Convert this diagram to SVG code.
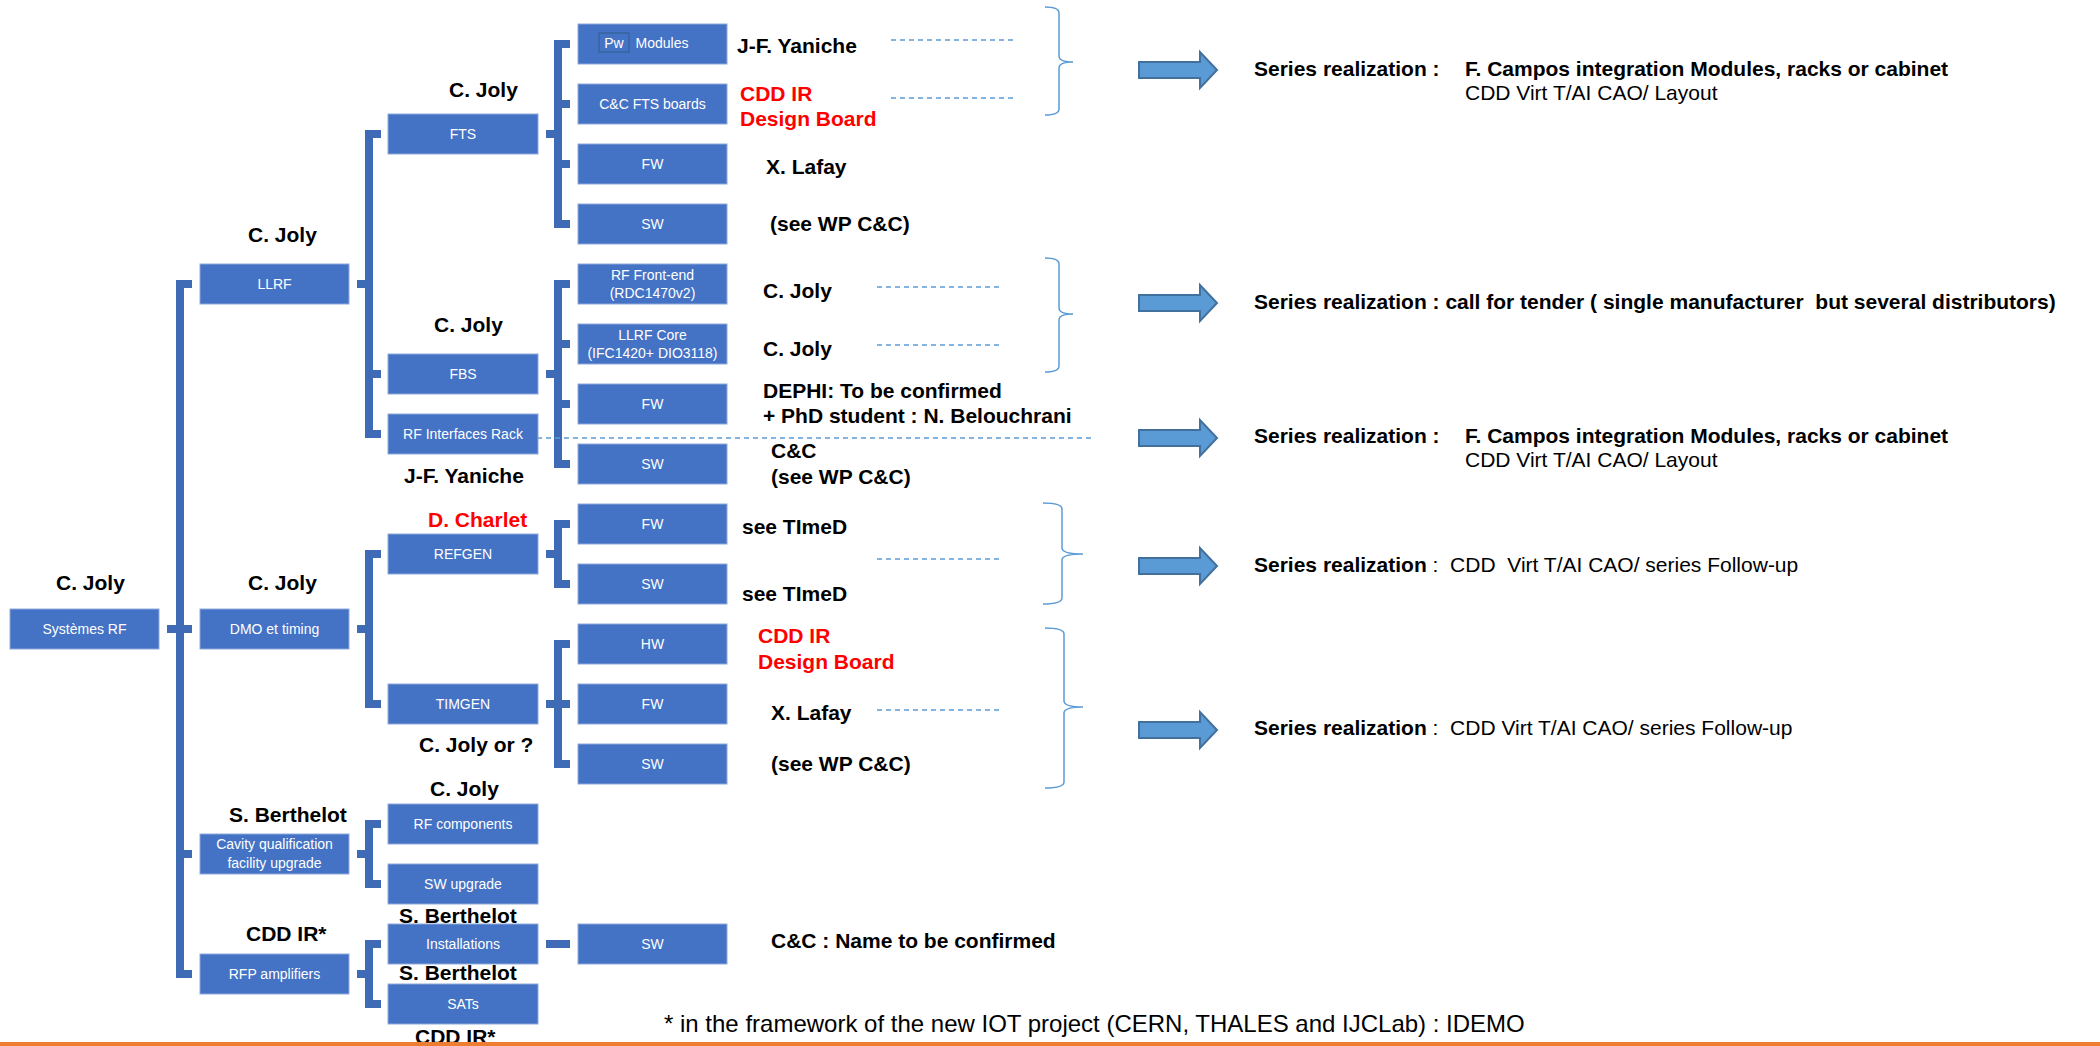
<svg xmlns="http://www.w3.org/2000/svg" width="2100" height="1046" viewBox="0 0 2100 1046">
<style>
.box{fill:#4472C4;stroke:#8EA9DB;stroke-width:1}
.bt{font-family:"Liberation Sans",Arial,sans-serif;font-size:14px;fill:#FFFFFF;text-anchor:middle}
.br{fill:none;stroke:#3F6AB6;stroke-width:8;stroke-linejoin:miter;stroke-linecap:butt}
.dash{fill:none;stroke:#5B9BD5;stroke-width:1.5;stroke-dasharray:5 4}
.brace{fill:none;stroke:#5B9BD5;stroke-width:1.5}
.nm{font-family:"Liberation Sans",Arial,sans-serif;font-size:21px;font-weight:bold;fill:#000000}
.red{fill:#FF0000}
.sr{font-family:"Liberation Sans",Arial,sans-serif;font-size:21px;fill:#000000}
.b{font-weight:bold}
.arr{fill:#5B9BD5;stroke:#41719C;stroke-width:2}
</style>
<defs>
<path id="arrow" class="arr" d="M0,-8 H61 V-18 L78,0 L61,18 V8 H0 Z"/>
</defs>

<g id="connectors">
<path class="br" d="M192,284 H180 V974 H192 M167,629 H192 M180,854 H192"/>
<path class="br" d="M381,134 H369 V434 H381 M357,284 H369 M369,374 H381"/>
<path class="br" d="M381,554 H369 V704 H381 M357,629 H369"/>
<path class="br" d="M381,824 H369 V884 H381 M357,854 H369"/>
<path class="br" d="M381,944 H369 V1004 H381 M357,974 H369"/>
<path class="br" d="M570,44 H558 V224 H570 M558,104 H570 M558,164 H570 M546,134 H558"/>
<path class="br" d="M570,284 H558 V464 H570 M558,344 H570 M558,404 H570 M546,374 H558"/>
<path class="br" d="M570,524 H558 V584 H570 M546,554 H558"/>
<path class="br" d="M570,644 H558 V764 H570 M546,704 H570"/>
<path class="br" d="M546,944 H570"/>
<path class="dash" d="M891,40 H1016 M891,98 H1016 M877,287 H1001 M877,345 H1001 M528,438 H1094 M877,559 H1001 M877,710 H1001"/>
<path class="brace" d="M1045,7 Q1059,7 1059,13 V56 Q1059,62 1073,62 Q1059,62 1059,68 V109 Q1059,115 1045,115"/>
<path class="brace" d="M1045,258 Q1059,258 1059,264 V308 Q1059,314 1073,314 Q1059,314 1059,320 V366 Q1059,372 1045,372"/>
<path class="brace" d="M1043,503 Q1062,503 1062,509 V548 Q1062,554 1083,554 Q1062,554 1062,560 V598 Q1062,604 1043,604"/>
<path class="brace" d="M1045,628 Q1064,628 1064,634 V701 Q1064,707 1083,707 Q1064,707 1064,713 V782 Q1064,788 1045,788"/>
<use href="#arrow" x="1139" y="70"/>
<use href="#arrow" x="1139" y="303"/>
<use href="#arrow" x="1139" y="438"/>
<use href="#arrow" x="1139" y="566"/>
<use href="#arrow" x="1139" y="730"/>
</g>

<g id="n-systemes-rf"><rect class="box" x="10" y="609" width="149" height="40"/><text class="bt" x="84.5" y="634">Systèmes RF</text></g>
<g id="n-llrf"><rect class="box" x="200" y="264" width="149" height="40"/><text class="bt" x="274.5" y="289">LLRF</text></g>
<g id="n-dmo"><rect class="box" x="200" y="609" width="149" height="40"/><text class="bt" x="274.5" y="634">DMO et timing</text></g>
<g id="n-cavity"><rect class="box" x="200" y="834" width="149" height="40"/><text class="bt" x="274.5" y="849">Cavity qualification</text><text class="bt" x="274.5" y="868">facility upgrade</text></g>
<g id="n-rfp"><rect class="box" x="200" y="954" width="149" height="40"/><text class="bt" x="274.5" y="979">RFP amplifiers</text></g>

<g id="n-fts"><rect class="box" x="388" y="114" width="150" height="40"/><text class="bt" x="463" y="139">FTS</text></g>
<g id="n-fbs"><rect class="box" x="388" y="354" width="150" height="40"/><text class="bt" x="463" y="379">FBS</text></g>
<g id="n-rfir"><rect class="box" x="388" y="414" width="150" height="40"/><text class="bt" x="463" y="439">RF Interfaces Rack</text></g>
<g id="n-refgen"><rect class="box" x="388" y="534" width="150" height="40"/><text class="bt" x="463" y="559">REFGEN</text></g>
<g id="n-timgen"><rect class="box" x="388" y="684" width="150" height="40"/><text class="bt" x="463" y="709">TIMGEN</text></g>
<g id="n-rfcomp"><rect class="box" x="388" y="804" width="150" height="40"/><text class="bt" x="463" y="829">RF components</text></g>
<g id="n-swupg"><rect class="box" x="388" y="864" width="150" height="40"/><text class="bt" x="463" y="889">SW upgrade</text></g>
<g id="n-install"><rect class="box" x="388" y="924" width="150" height="40"/><text class="bt" x="463" y="949">Installations</text></g>
<g id="n-sats"><rect class="box" x="388" y="984" width="150" height="40"/><text class="bt" x="463" y="1009">SATs</text></g>

<g id="n-pw"><rect class="box" x="578" y="24" width="149" height="40"/><rect x="599" y="33" width="30" height="19" fill="none" stroke="#2F5D8C" stroke-width="1"/><text class="bt" x="614" y="48">Pw</text><text class="bt" x="662" y="48">Modules</text></g>
<g id="n-ccfts"><rect class="box" x="578" y="84" width="149" height="40"/><text class="bt" x="652.5" y="109">C&amp;C FTS boards</text></g>
<g id="n-fts-fw"><rect class="box" x="578" y="144" width="149" height="40"/><text class="bt" x="652.5" y="169">FW</text></g>
<g id="n-fts-sw"><rect class="box" x="578" y="204" width="149" height="40"/><text class="bt" x="652.5" y="229">SW</text></g>
<g id="n-rffe"><rect class="box" x="578" y="264" width="149" height="40"/><text class="bt" x="652.5" y="280">RF Front-end</text><text class="bt" x="652.5" y="298">(RDC1470v2)</text></g>
<g id="n-llrfcore"><rect class="box" x="578" y="324" width="149" height="40"/><text class="bt" x="652.5" y="340">LLRF Core</text><text class="bt" x="652.5" y="358">(IFC1420+ DIO3118)</text></g>
<g id="n-fbs-fw"><rect class="box" x="578" y="384" width="149" height="40"/><text class="bt" x="652.5" y="409">FW</text></g>
<g id="n-fbs-sw"><rect class="box" x="578" y="444" width="149" height="40"/><text class="bt" x="652.5" y="469">SW</text></g>
<g id="n-ref-fw"><rect class="box" x="578" y="504" width="149" height="40"/><text class="bt" x="652.5" y="529">FW</text></g>
<g id="n-ref-sw"><rect class="box" x="578" y="564" width="149" height="40"/><text class="bt" x="652.5" y="589">SW</text></g>
<g id="n-tim-hw"><rect class="box" x="578" y="624" width="149" height="40"/><text class="bt" x="652.5" y="649">HW</text></g>
<g id="n-tim-fw"><rect class="box" x="578" y="684" width="149" height="40"/><text class="bt" x="652.5" y="709">FW</text></g>
<g id="n-tim-sw"><rect class="box" x="578" y="744" width="149" height="40"/><text class="bt" x="652.5" y="769">SW</text></g>
<g id="n-inst-sw"><rect class="box" x="578" y="924" width="149" height="40"/><text class="bt" x="652.5" y="949">SW</text></g>

<g id="labels">
<text class="nm" x="449" y="97">C. Joly</text>
<text class="nm" x="248" y="242">C. Joly</text>
<text class="nm" x="434" y="332">C. Joly</text>
<text class="nm" x="737" y="53">J-F. Yaniche</text>
<text class="nm red" x="740" y="101">CDD IR</text>
<text class="nm red" x="740" y="126">Design Board</text>
<text class="nm" x="766" y="174">X. Lafay</text>
<text class="nm" x="770" y="231">(see WP C&amp;C)</text>
<text class="nm" x="763" y="298">C. Joly</text>
<text class="nm" x="763" y="356">C. Joly</text>
<text class="nm" x="763" y="398">DEPHI: To be confirmed</text>
<text class="nm" x="763" y="423">+ PhD student : N. Belouchrani</text>
<text class="nm" x="771" y="458">C&amp;C</text>
<text class="nm" x="771" y="484">(see WP C&amp;C)</text>
<text class="nm" x="404" y="483">J-F. Yaniche</text>
<text class="nm red" x="428" y="527">D. Charlet</text>
<text class="nm" x="742" y="534">see TImeD</text>
<text class="nm" x="742" y="601">see TImeD</text>
<text class="nm" x="56" y="590">C. Joly</text>
<text class="nm" x="248" y="590">C. Joly</text>
<text class="nm red" x="758" y="643">CDD IR</text>
<text class="nm red" x="758" y="669">Design Board</text>
<text class="nm" x="771" y="720">X. Lafay</text>
<text class="nm" x="419" y="752">C. Joly or ?</text>
<text class="nm" x="771" y="771">(see WP C&amp;C)</text>
<text class="nm" x="430" y="796">C. Joly</text>
<text class="nm" x="229" y="822">S. Berthelot</text>
<text class="nm" x="399" y="923">S. Berthelot</text>
<text class="nm" x="246" y="941">CDD IR*</text>
<text class="nm" x="771" y="948">C&amp;C : Name to be confirmed</text>
<text class="nm" x="399" y="980">S. Berthelot</text>
<text class="nm" x="415" y="1044">CDD IR*</text>

<text class="sr b" x="1254" y="76">Series realization :</text>
<text class="sr b" x="1465" y="76">F. Campos integration Modules, racks or cabinet</text>
<text class="sr" x="1465" y="100">CDD Virt T/AI CAO/ Layout</text>
<text class="sr b" x="1254" y="309" xml:space="preserve">Series realization : call for tender ( single manufacturer  but several distributors)</text>
<text class="sr b" x="1254" y="443">Series realization :</text>
<text class="sr b" x="1465" y="443">F. Campos integration Modules, racks or cabinet</text>
<text class="sr" x="1465" y="467">CDD Virt T/AI CAO/ Layout</text>
<text class="sr" x="1254" y="572" xml:space="preserve"><tspan class="b">Series realization</tspan> :  CDD  Virt T/AI CAO/ series Follow-up</text>
<text class="sr" x="1254" y="735" xml:space="preserve"><tspan class="b">Series realization</tspan> :  CDD Virt T/AI CAO/ series Follow-up</text>

<text x="664" y="1032" font-family="'Liberation Sans',Arial,sans-serif" font-size="24" fill="#000000">* in the framework of the new IOT project (CERN, THALES and IJCLab) : IDEMO</text>
</g>
<rect x="0" y="1042" width="2100" height="4" fill="#ED7D31"/>
</svg>
